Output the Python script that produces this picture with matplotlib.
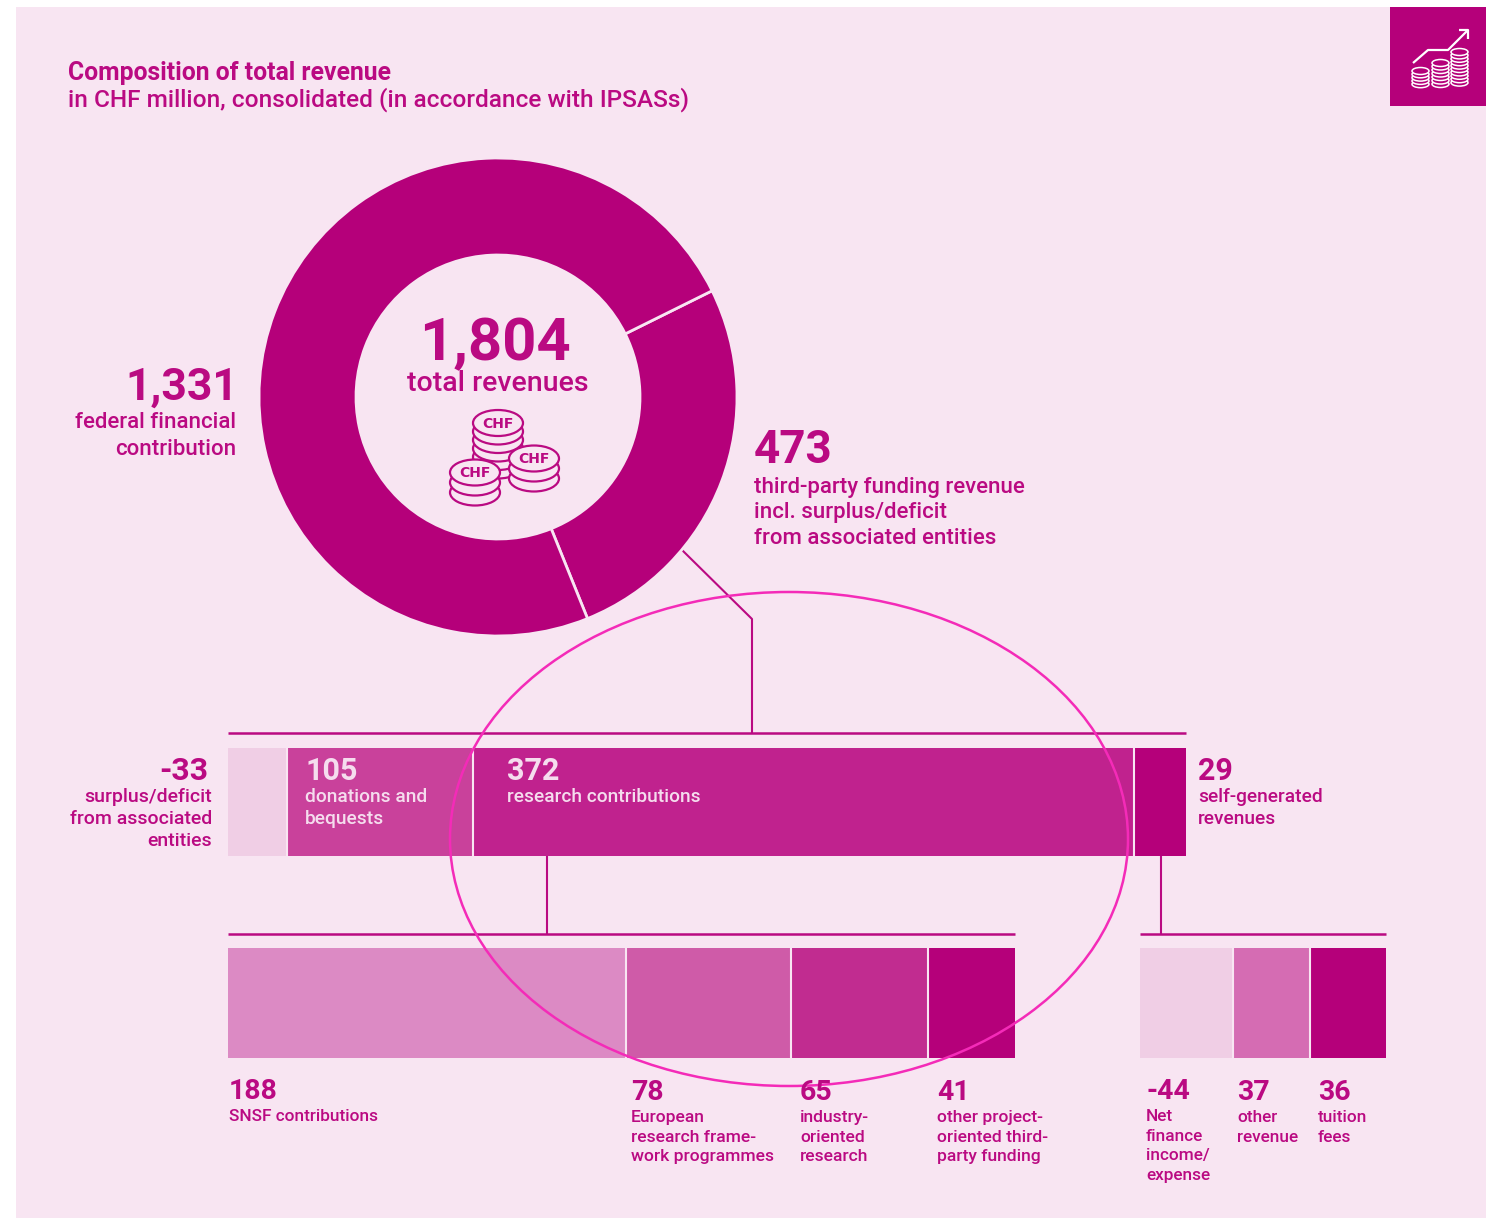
import matplotlib
matplotlib.use('Agg')
import matplotlib.pyplot as plt
from matplotlib.patches import Ellipse, Rectangle

# values in CHF million
total = 1804
donut_values = [473, 1331]
funding_values = [33, 105, 372, 29]
research_values = [188, 78, 65, 41]
selfgen_values = [44, 37, 36]

funding_colors = ['#F0CEE5', '#C9419B', '#C0228E', '#B5007A']
research_colors = ['#DC8AC4', '#CF5BA8', '#C12C90', '#B5007A']
selfgen_colors = ['#F0CEE5', '#D56CB3', '#B5007A']

BG = '#F8E5F2'
MAIN = '#B5007A'
TXT = '#BA0A82'
LIGHT = '#F5DDEE'
RING = '#F42BB8'

plt.rcParams['font.family'] = ['Roboto', 'DejaVu Sans']
plt.rcParams['lines.solid_capstyle'] = 'butt'

W, H = 1486, 1219
fig = plt.figure(figsize=(W / 100, H / 100), dpi=100, facecolor='white')
ax = fig.add_axes([0, 0, 1, 1])
ax.set_xlim(0, W)
ax.set_ylim(H, 0)
ax.axis('off')

ax.add_patch(Rectangle((16, 7), W - 16, 1211, fc=BG, ec='none', zorder=0))
ax.add_patch(Rectangle((1390, 7), 96, 99, fc=MAIN, ec='none', zorder=1))


def txt(x, y, s, size, weight='medium', color=TXT, ha='left', zorder=6):
    ax.text(x, y, s, fontsize=size, fontweight=weight, color=color, ha=ha, va='baseline', zorder=zorder)


def block(x, y, big, lines, step, big_size=22, small_size=13.8, color=TXT, ha='left', gap=22):
    txt(x, y, big, big_size, weight='bold', color=color, ha=ha)
    for i, line in enumerate(lines):
        txt(x, y + gap + i * step, line, small_size, color=color, ha=ha)


def stacked(values, colors, x0, x1, y0, y1):
    scale = (x1 - x0) / sum(values)
    left = x0
    for i, (v, c) in enumerate(zip(values, colors)):
        ax.barh((y0 + y1) / 2, v * scale, height=y1 - y0, left=left, color=c, linewidth=0, zorder=2)
        left += v * scale
        if i < len(values) - 1:
            ax.plot([left, left], [y0, y1], color=BG, lw=1.5, zorder=2.5)


def coins(cx, top, n, step, rx=25, ry=13, lw=1.6, edge=TXT, fill=BG, z=3, label=True):
    for i in range(n - 1, -1, -1):
        ax.add_patch(Ellipse((cx, top + i * step), 2 * rx, 2 * ry, fc=fill, ec=edge, lw=lw, zorder=z))
    if label:
        ax.text(cx, top + 0.5, 'CHF', fontsize=10, fontweight='bold', family='DejaVu Sans', color=edge,
                ha='center', va='center', zorder=z + 0.1)


# title
txt(68, 80, 'Composition of total revenue', 17.8, weight='bold')
txt(68, 107, 'in CHF million, consolidated (in accordance with IPSASs)', 17.6)

# donut
R = 239
dax = fig.add_axes([(498 - R) / W, 1 - (397 + R) / H, 2 * R / W, 2 * R / H])
dax.pie(donut_values, colors=[MAIN, MAIN], startangle=-68, radius=1,
        wedgeprops=dict(width=97 / R, edgecolor=BG, linewidth=2))
dax.set_xlim(-1, 1)
dax.set_ylim(-1, 1)
dax.patch.set_alpha(0)

txt(495, 360, f'{total:,}', 43, weight='bold', ha='center')
txt(498, 391, 'total revenues', 20.5, ha='center')
coins(498, 423, 6, 8.5)
coins(534, 458.5, 3, 10)
coins(475, 472.5, 3, 10)

block(238, 400, f'{donut_values[1]:,}', [], 27, big_size=32, ha='right')
txt(236, 428, 'federal financial', 16, ha='right')
txt(236, 455, 'contribution', 16, ha='right')
block(754, 463, f'{donut_values[0]}', ['third-party funding revenue', 'incl. surplus/deficit', 'from associated entities'], 25.5, big_size=33, small_size=16, gap=29.5)

# connectors
ax.plot([681, 752, 752], [549, 619, 733], color=TXT, lw=1.5, zorder=2)
ax.plot([228, 1186], [733, 733], color=TXT, lw=1.8, zorder=2)
ax.plot([547, 547], [856, 934], color=TXT, lw=1.5, zorder=2)
ax.plot([228, 1015], [934, 934], color=TXT, lw=1.8, zorder=2)
ax.plot([1161, 1161], [856, 934], color=TXT, lw=1.5, zorder=2)
ax.plot([1140, 1386], [934, 934], color=TXT, lw=1.8, zorder=2)

# bars
stacked(funding_values, funding_colors, 228, 1186, 748, 856)
stacked(research_values, research_colors, 228, 1015, 948, 1058)
stacked(selfgen_values, selfgen_colors, 1140, 1386, 948, 1058)

# row 2 labels
block(208, 780, f'-{funding_values[0]}', [], 22, big_size=23, ha='right')
for i, line in enumerate(['surplus/deficit', 'from associated', 'entities']):
    txt(212, 802 + i * 22, line, 14, ha='right')
block(305, 780, f'{funding_values[1]}', ['donations and', 'bequests'], 22, color=LIGHT)
block(507, 780, f'{funding_values[2]}', ['research contributions'], 22, color=LIGHT)
block(1198, 780, f'{funding_values[3]}', ['self-generated', 'revenues'], 22)

# row 3 labels
block(229, 1099, f'{research_values[0]}', ['SNSF contributions'], 20, big_size=20.5, small_size=12.4)
block(631, 1100, f'{research_values[1]}', ['European', 'research frame-', 'work programmes'], 19.7, big_size=20.5, small_size=12.6)
block(800, 1100, f'{research_values[2]}', ['industry-', 'oriented', 'research'], 19.7, big_size=20.5, small_size=12.6)
block(937, 1100, f'{research_values[3]}', ['other project-', 'oriented third-', 'party funding'], 19.7, big_size=20.5, small_size=12.6)

block(1146, 1099, f'-{selfgen_values[0]}', ['Net', 'finance', 'income/', 'expense'], 19.7, big_size=20.5, small_size=12.4)
block(1237, 1100, f'{selfgen_values[1]}', ['other', 'revenue'], 19.7, big_size=20.5, small_size=12.4)
block(1318, 1100, f'{selfgen_values[2]}', ['tuition', 'fees'], 19.7, big_size=20.5, small_size=12.4)

# pink ring over the bars
ax.add_patch(Ellipse((789, 839), 678, 494, fc='none', ec=RING, lw=1.8, zorder=5))

# corner icon
ax.plot([1413, 1428, 1448, 1468], [63, 50, 50, 30], color='white', lw=1.6, zorder=3)
ax.plot([1459, 1468, 1468], [30, 30, 39], color='white', lw=1.6, zorder=3)
coins(1420.5, 71, 5, 3.3, rx=8.5, ry=3.5, lw=1.1, edge='white', fill=MAIN, label=False)
coins(1440.5, 63, 7, 3.5, rx=8.5, ry=3.5, lw=1.1, edge='white', fill=MAIN, label=False)
coins(1459.5, 52, 10, 3.4, rx=8.5, ry=3.5, lw=1.1, edge='white', fill=MAIN, label=False)

fig.savefig('out.png', dpi=100, facecolor='white')
